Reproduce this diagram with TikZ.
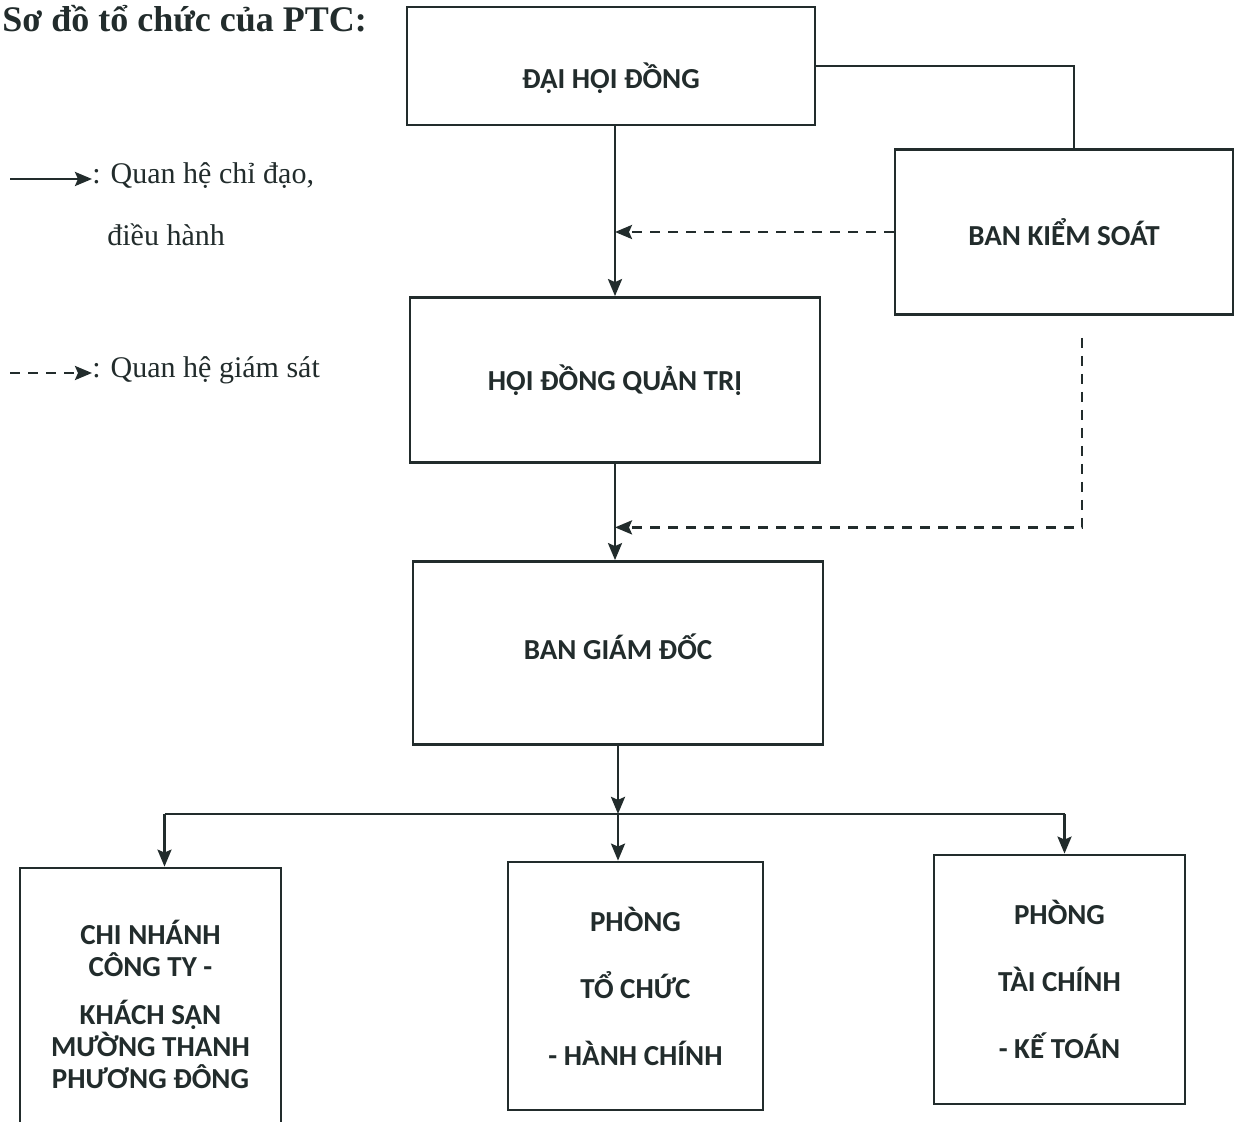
\documentclass[tikz,border=0pt]{standalone}
\usepackage{fontspec}
\setmainfont{Liberation Serif}
\newfontfamily\boxfont{Carlito}
\usetikzlibrary{arrows.meta, positioning, calc}
\definecolor{cInk}{RGB}{34,44,44}
\tikzset{
  %% organisation boxes
  orgbox/.style={rectangle, draw=cInk, line width=1.4pt, align=center,
                 text=cInk, inner sep=0pt,
                 font=\boxfont\bfseries\fontsize{14.5}{16}\selectfont},
  %% connectors
  direct/.style={draw=cInk, line width=1.3pt,
                 -{Stealth[length=8.5pt, width=7pt, inset=1.5pt]}},
  supervise/.style={direct, dash pattern=on 5pt off 4pt},
  link/.style={draw=cInk, line width=1.3pt},
  %% legend text
  legend/.style={font=\fontsize{15}{18}\selectfont, text=cInk, inner sep=0pt},
}

\begin{document}
\begin{tikzpicture}[x=0.5pt, y=-0.5pt]
\useasboundingbox (0,0) rectangle (1235,1122);
\fill[white] (0,0) rectangle (1235,1122);

%% ============================================================
%%  TITLE
%% ============================================================
\node[anchor=base west, inner sep=0pt, text=cInk,
      font=\bfseries\fontsize{18}{20}\selectfont] (title) at (2,32)
  {Sơ đồ tổ chức của PTC:};

%% ============================================================
%%  BOXES
%% ============================================================
\node[orgbox, minimum width=204pt, minimum height=59pt]   (dhd)  at (611,66)
  {\raisebox{-6pt}[\height][\depth]{ĐẠI HỘI ĐỒNG}};
\node[orgbox, minimum width=169pt, minimum height=82.5pt] (bks)  at (1064,232) {BAN KIỂM SOÁT};
\node[orgbox, minimum width=205pt, minimum height=82.5pt] (hdqt) at (615,380) {HỘI ĐỒNG QUẢN TRỊ};
\node[orgbox, minimum width=205pt, minimum height=91.5pt] (bgd)  at (618,653)
  {\raisebox{3pt}[\height][\depth]{BAN GIÁM ĐỐC}};

\node[orgbox, minimum width=130.5pt, minimum height=136pt] (cn) at (150.5,1004)
  {CHI NHÁNH\\CÔNG TY -\\[8pt]KHÁCH SẠN\\MƯỜNG THANH\\PHƯƠNG ĐÔNG};
\node[orgbox, minimum width=127.5pt, minimum height=124pt] (ptc) at (635.5,986)
  {PHÒNG\\[17.5pt]TỔ CHỨC\\[17.5pt]- HÀNH CHÍNH};
\node[orgbox, minimum width=125.5pt, minimum height=124.5pt] (kt) at (1059.5,979.5)
  {PHÒNG\\[17.5pt]TÀI CHÍNH\\[17.5pt]- KẾ TOÁN};

%% ============================================================
%%  CONNECTORS
%% ============================================================
\coordinate (kstop) at ($(bks.north)+(10,0)$);
\draw[link] (dhd.east) -| (kstop);
\draw[direct] (hdqt.north |- dhd.south) -- (hdqt.north);
\draw[supervise] (bks.west) -- (bks.west -| hdqt.north);
\draw[direct] (hdqt.south) -- (hdqt.south |- bgd.north);

%% supervision of the board of directors
\coordinate (ksfoot) at ($(bks.south)+(18,22)$);
\coordinate (ksend)  at ($(hdqt.south)!0.66!(hdqt.south |- bgd.north)$);
\draw[supervise] (ksfoot) |- (ksend);

%% branches
\coordinate (bus)  at ($(bgd.south)+(0,68)$);
\coordinate (cnin) at ($(cn.north)+(14,0)$);
\coordinate (ktin) at ($(kt.north)+(5,0)$);
\draw[direct] (bgd.south) -- (bus);
\draw[link] (bus -| cnin) -- (bus -| ktin);
\draw[direct] (bus -| cnin) -- (cnin);
\draw[direct] (bus) -- (bus |- ptc.north);
\draw[direct] (bus -| ktin) -- (ktin);

%% ============================================================
%%  LEGEND
%% ============================================================
\node[legend, anchor=base west] (legdir) at (92,184) {: Quan hệ chỉ đạo,};
\node[legend, anchor=base west] (legdir2) at ($(legdir.base west)+(15,62)$) {điều hành};
\node[legend, anchor=base west] (legsup) at (92,378) {: Quan hệ giám sát};

\coordinate (ldir) at (10,179);
\coordinate (lsup) at (10,373);
\draw[direct] (ldir) -- (ldir -| legdir.west);
\draw[supervise] (lsup) -- (lsup -| legsup.west);

\end{tikzpicture}
\end{document}
